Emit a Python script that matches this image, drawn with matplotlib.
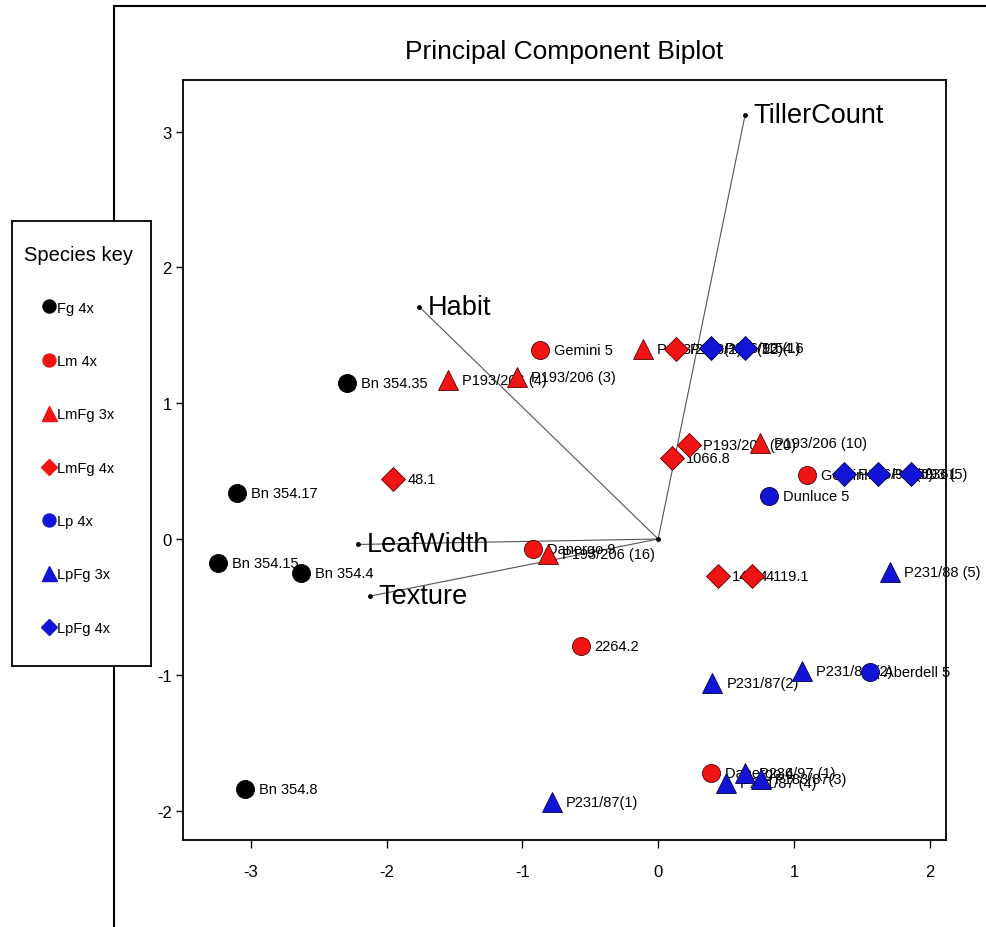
import numpy as np
import matplotlib.pyplot as plt
from matplotlib.lines import Line2D

plt.rcParams['font.family'] = ['Liberation Sans', 'DejaVu Sans']
plt.rcParams['axes.unicode_minus'] = False

# scores
fg_x = [-2.29, -3.10, -3.24, -2.63, -3.04]
fg_y = [1.15, 0.34, -0.18, -0.25, -1.84]
fg_lab = ["Bn 354.35", "Bn 354.17", "Bn 354.15", "Bn 354.4", "Bn 354.8"]

lm_x = [-0.87, -0.92, -0.57, 1.10, 0.39]
lm_y = [1.39, -0.07, -0.79, 0.47, -1.72]
lm_lab = ["Gemini 5", "Danergo 9", "2264.2", "Gemini 14", "Danergo 4"]

lmfg3_x = [-1.55, -1.04, -0.11, 0.75, -0.81]
lmfg3_y = [1.17, 1.19, 1.40, 0.71, -0.11]
lmfg3_lab = ["P193/206 (4)", "P193/206 (3)", "P193/206 (1)", "P193/206 (10)", "P193/206 (16)"]

lmfg4_x = [0.13, -1.95, 0.10, 0.23, 0.44, 0.69]
lmfg4_y = [1.40, 0.44, 0.60, 0.69, -0.27, -0.27]
lmfg4_lab = ["P193/206 (12)", "48.1", "1066.8", "P193/206 (20)", "144.4", "4119.1"]

lp_x = [0.82, 1.56]
lp_y = [0.32, -0.98]
lp_lab = ["Dunluce 5", "Aberdell 5"]

lpfg3_x = [1.71, 0.40, 1.06, -0.78, 0.50, 0.64, 0.76]
lpfg3_y = [-0.24, -1.06, -0.97, -1.94, -1.80, -1.72, -1.77]
lpfg3_lab = ["P231/88 (5)", "P231/87(2)", "P231/88 (2)", "P231/87(1)",
             "P231/87 (4)", "P236/97 (1)", "P183/87(3)"]

lpfg4_x = [0.39, 0.64, 1.37, 1.62, 1.86]
lpfg4_y = [1.41, 1.41, 0.48, 0.48, 0.48]
lpfg4_lab = ["P116/93 (1)", "7154.6", "P116/93 (6)", "P118/93 (5)", "9361"]

# loadings
var_names = ["TillerCount", "Habit", "LeafWidth", "Texture"]
var_x = [0.64, -1.76, -2.21, -2.12]
var_y = [3.12, 1.71, -0.04, -0.42]

groups = [
    ("Fg 4x", fg_x, fg_y, fg_lab, "o", "black", 13),
    ("Lm 4x", lm_x, lm_y, lm_lab, "o", "#f01414", 13),
    ("LmFg 3x", lmfg3_x, lmfg3_y, lmfg3_lab, "^", "#f01414", 15),
    ("LmFg 4x", lmfg4_x, lmfg4_y, lmfg4_lab, "D", "#f01414", 12),
    ("Lp 4x", lp_x, lp_y, lp_lab, "o", "#1414d8", 13),
    ("LpFg 3x", lpfg3_x, lpfg3_y, lpfg3_lab, "^", "#1414d8", 15),
    ("LpFg 4x", lpfg4_x, lpfg4_y, lpfg4_lab, "D", "#1414d8", 12),
]

fig = plt.figure(figsize=(9.86, 9.28), dpi=100)
ax = fig.add_axes([0.1856, 0.0938, 0.7738, 0.8189])

# outer frame (left and top edges visible)
fig.add_artist(Line2D([0.1156, 0.1156], [0.0, 0.9925], color="black", lw=1.5, transform=fig.transFigure))
fig.add_artist(Line2D([0.1156, 1.0], [0.9925, 0.9925], color="black", lw=1.5, transform=fig.transFigure))

for name, vx, vy in zip(var_names, var_x, var_y):
    ax.plot([0, vx], [0, vy], color="#555555", lw=0.8, zorder=1)
    ax.plot(vx, vy, "o", color="black", ms=2.5, zorder=1)
    ax.annotate(name, (vx, vy), xytext=(6, 0), textcoords="offset points",
                ha="left", va="center", fontsize=19.5, zorder=1)
ax.plot(0, 0, "o", color="black", ms=2.5)

handles = []
for name, xs, ys, labs, mk, col, ms in groups:
    edge = "black" if col == "black" else ("#550000" if col == "#f01414" else "#000040")
    ax.plot(xs, ys, linestyle="none", marker=mk, color=col, ms=ms,
            markeredgecolor=edge, markeredgewidth=0.6, zorder=3)
    for x, y, t in zip(xs, ys, labs):
        ax.annotate(t, (x, y), xytext=(10, 0), textcoords="offset points",
                    ha="left", va="center", fontsize=10.5, zorder=2)
    handles.append(Line2D([], [], linestyle="none", marker=mk, color=col,
                          ms=ms * 0.72, label=name))

ax.set_xlim(-3.5, 2.12)
ax.set_ylim(-2.216, 3.38)
ax.set_xticks([-3, -2, -1, 0, 1, 2])
ax.set_yticks([-2, -1, 0, 1, 2, 3])
ax.tick_params(axis="x", direction="out", length=6, width=1, labelsize=12, pad=11)
ax.tick_params(axis="y", direction="out", length=5, width=1, labelsize=12, pad=3)
for s in ax.spines.values():
    s.set_linewidth(1.3)

fig.text(0.5725, 0.944, "Principal Component Biplot", ha="center", va="center", fontsize=19)

# species key box
lax = fig.add_axes([12 / 986, 1 - 667 / 928, 139 / 986, 445 / 928], zorder=5)
lax.set_xticks([])
lax.set_yticks([])
lax.set_facecolor("white")
for s in lax.spines.values():
    s.set_linewidth(1.3)
leg = lax.legend(handles=handles, loc="upper center", bbox_to_anchor=(0.48, 0.945),
                 title="Species key", title_fontsize=14.5, fontsize=10.5,
                 frameon=False, labelspacing=2.7, handlelength=0.8,
                 handletextpad=0.1, borderpad=0, borderaxespad=0)
leg._legend_box.sep = 26

fig.savefig("out.png", dpi=100)
